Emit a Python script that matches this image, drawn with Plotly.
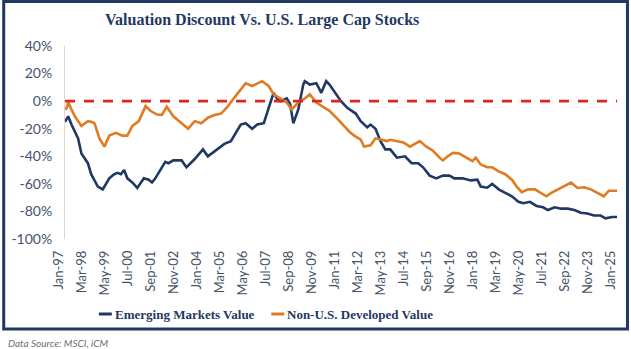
import plotly.graph_objects as go

# Emerging Markets Value: discount vs. U.S. large cap (month, % discount)
em_dates = [
    "1997-01", "1997-03", "1997-05", "1997-07", "1997-09", "1997-11", "1998-01", "1998-03",
    "1998-05", "1998-07", "1998-09", "1998-12", "1999-02", "1999-04", "1999-07", "1999-09",
    "1999-11", "2000-01", "2000-03", "2000-06", "2000-09", "2000-11", "2001-01", "2001-04",
    "2001-06", "2001-08", "2001-10", "2001-12", "2002-02", "2002-04", "2002-07", "2002-12",
    "2003-03", "2003-08", "2004-01", "2004-04", "2004-10", "2005-02", "2005-06", "2005-08",
    "2005-12", "2006-03", "2006-07", "2006-10", "2007-02", "2007-05", "2007-08", "2007-10",
    "2007-12", "2008-04", "2008-06", "2008-08", "2008-11", "2009-02", "2009-03", "2009-06",
    "2009-10", "2010-01", "2010-04", "2010-06", "2010-09", "2011-01", "2011-05", "2011-10",
    "2012-01", "2012-05", "2012-07", "2012-10", "2013-01", "2013-04", "2013-07", "2013-11",
    "2014-04", "2014-08", "2014-12", "2015-03", "2015-07", "2015-11", "2016-03", "2016-07",
    "2016-10", "2017-03", "2017-08", "2017-12", "2018-02", "2018-06", "2018-09", "2019-01",
    "2019-05", "2019-09", "2020-01", "2020-04", "2020-08", "2020-12", "2021-04", "2021-07",
    "2021-11", "2022-03", "2022-07", "2022-11", "2023-03", "2023-07", "2023-11", "2024-03",
    "2024-06", "2024-10", "2025-01",
]
em_values = [
    -15, -11, -17, -22, -27, -38, -42, -45,
    -53, -58, -62, -64, -60, -56, -53, -52,
    -53, -50, -56, -59, -63, -59, -56, -57,
    -59, -56, -52, -48, -44, -45, -43, -43,
    -48, -42, -35, -40, -35, -31, -29, -25,
    -17, -16, -20, -17, -16, -5, 6, 2,
    0, 2, -2, -16, -6, 12, 14.5, 12,
    13, 6, 14.5, 12, 6.5, 0, -5, -9,
    -14.5, -19, -17, -20, -29, -35, -35, -41,
    -40, -45, -45, -48, -54, -56, -54, -54,
    -56, -56, -57.5, -57, -62, -62.8, -60, -64,
    -66.5, -69, -73, -74, -73, -76, -77, -79,
    -77, -78, -78, -79, -81, -81.5, -83, -83,
    -85, -84, -84,
]

# Non-U.S. Developed Value: discount vs. U.S. large cap (month, % discount)
dev_dates = [
    "1997-01", "1997-02", "1997-03", "1997-05", "1997-07", "1997-11", "1998-03", "1998-05",
    "1998-07", "1998-10", "1999-01", "1999-04", "1999-08", "1999-12", "2000-03", "2000-06",
    "2000-10", "2001-02", "2001-05", "2001-09", "2001-12", "2002-03", "2002-07", "2002-12",
    "2003-04", "2003-08", "2003-12", "2004-04", "2004-08", "2004-12", "2005-04", "2005-08",
    "2005-12", "2006-03", "2006-07", "2006-11", "2007-01", "2007-05", "2007-08", "2007-12",
    "2008-04", "2008-07", "2008-11", "2009-03", "2009-06", "2009-10", "2010-02", "2010-06",
    "2010-11", "2011-03", "2011-06", "2011-09", "2012-01", "2012-03", "2012-07", "2012-10",
    "2013-01", "2013-05", "2013-07", "2013-11", "2014-03", "2014-07", "2014-11", "2015-01",
    "2015-05", "2015-09", "2016-01", "2016-03", "2016-06", "2016-09", "2017-01", "2017-05",
    "2017-09", "2017-11", "2018-02", "2018-06", "2018-09", "2019-01", "2019-05", "2019-09",
    "2019-12", "2020-03", "2020-07", "2020-11", "2021-03", "2021-06", "2021-09", "2022-01",
    "2022-05", "2022-09", "2023-01", "2023-05", "2023-09", "2024-01", "2024-05", "2024-08",
    "2025-01",
]
dev_values = [
    -6, -5, -1, -6, -11, -18, -14.5, -15,
    -16, -27, -33, -25, -23, -25, -25, -18,
    -14.5, -3.6, -7, -9.7, -10, -4, -11, -16,
    -20, -14.5, -16, -12, -10, -9, -4, 2.4,
    8.5, 13, 11, 13, 14.5, 11, 5, 2,
    -1, -6, -1, 2, 5, -1, -4, -7,
    -13, -18, -22, -25, -28, -33, -32, -27,
    -28, -29, -28, -29, -30, -33, -30, -29,
    -33, -36, -41, -43, -40, -37.5, -38, -41,
    -43.5, -41, -46, -48, -48, -51, -53, -57,
    -62, -66, -64, -64, -66.5, -69, -66.5, -64,
    -62, -59, -63, -62.5, -64, -66.5, -69, -65,
    -65,
]

series_names = ["Emerging Markets Value", "Non-U.S. Developed Value"]
series_colors = ["#1f3864", "#e07b22"]

y_tick_values = [40, 20, 0, -20, -40, -60, -80, -100]
y_tick_labels = ["40%", "20%", "0%", "-20%", "-40%", "-60%", "-80%", "-100%"]

parity_level = 0  # no discount

navy = "#1f3864"
label_color = "#44546a"
serif = "Liberation Serif, DejaVu Serif, serif"
sans = "Lato, Open Sans, sans-serif"

fig = go.Figure()
for dates, vals, name, color in [
    (em_dates, em_values, series_names[0], series_colors[0]),
    (dev_dates, dev_values, series_names[1], series_colors[1]),
]:
    fig.add_trace(go.Scatter(
        x=[d + "-01" for d in dates], y=vals, name=name, mode="lines",
        line=dict(color=color, width=2.6), showlegend=False,
    ))

# red dashed parity line across the full data span
fig.add_trace(go.Scatter(
    x=[em_dates[0] + "-01", em_dates[-1] + "-01"], y=[parity_level, parity_level],
    mode="lines", line=dict(color="#e02424", width=2.8, dash="10px,9px"),
    showlegend=False, hoverinfo="skip",
))

# plot area geometry in pixels (used to place frame / legend / notes)
L, R, T, B = 63, 620, 46, 239


def px(x):
    return (x - L) / (R - L)


def py(y):
    return (B - y) / (B - T)


fig.update_layout(
    width=631, height=349,
    margin=dict(l=L, r=631 - R, t=T, b=349 - B),
    paper_bgcolor="white", plot_bgcolor="white",
    xaxis=dict(
        type="date", range=["1997-01-01", "2025-02-24"],
        tickmode="linear", tick0="1997-01-01", dtick="M14", tickformat="%b-%y",
        tickangle=-90, showgrid=False, zeroline=False, showline=False, ticks="",
        tickfont=dict(family=sans, size=13, color=label_color),
        ticklabelshift=-6, ticklabelstandoff=8,
    ),
    yaxis=dict(
        range=[-100, 40], tickmode="array", tickvals=y_tick_values, ticktext=y_tick_labels,
        showgrid=False, zeroline=False, showline=True, linecolor="#d9d9d9", linewidth=1,
        ticks="", tickfont=dict(family=sans, size=14, color=label_color),
        ticklabelstandoff=9,
    ),
    showlegend=False,
)

shapes = [
    # outer frame
    dict(type="rect", xref="paper", yref="paper", x0=px(1.5), x1=px(627.5), y0=py(329),
         y1=py(1.5), line=dict(color=navy, width=3), layer="above"),
]
annotations = [
    dict(text="<b>Valuation Discount Vs. U.S. Large Cap Stocks</b>", xref="paper", yref="paper",
         x=px(261), y=py(20), xanchor="center", yanchor="middle", showarrow=False,
         font=dict(family=serif, size=16, color=navy)),
    dict(text="<i>Data Source: MSCI, iCM</i>", xref="paper", yref="paper",
         x=px(4), y=py(343), xanchor="left", yanchor="middle", showarrow=False,
         font=dict(family=sans, size=10, color="#6f6f6f")),
]

# manual legend with short line keys
legend_items = [(97, series_names[0], series_colors[0]), (270, series_names[1], series_colors[1])]
for x0, name, color in legend_items:
    shapes.append(dict(type="line", xref="paper", yref="paper", x0=px(x0), x1=px(x0 + 13),
                       y0=py(314), y1=py(314), line=dict(color=color, width=3)))
    annotations.append(dict(text="<b>" + name + "</b>", xref="paper", yref="paper",
                            x=px(x0 + 14), y=py(314), xanchor="left", yanchor="middle",
                            showarrow=False, font=dict(family=serif, size=13, color=navy)))

fig.update_layout(shapes=shapes, annotations=annotations)
fig.write_html("out.html")
